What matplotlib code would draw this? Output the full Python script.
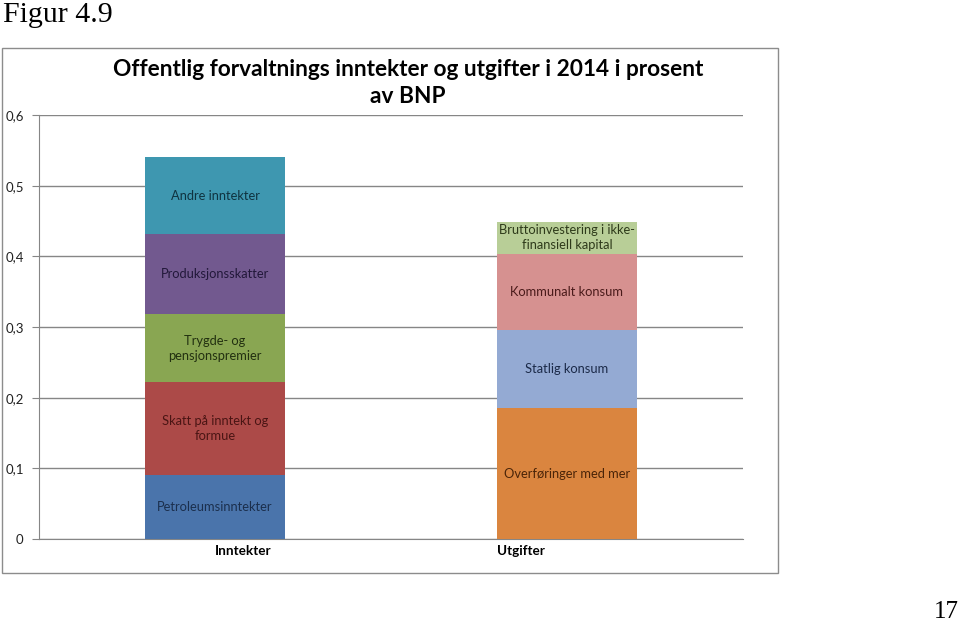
import matplotlib
matplotlib.use("Agg")
import matplotlib.pyplot as plt
from matplotlib.patches import Rectangle
import numpy as np

plt.rcParams['font.family'] = ['Lato', 'DejaVu Sans']

categories = ["Inntekter", "Utgifter"]
inntekt_labels = ["Petroleumsinntekter", "Skatt på inntekt og\nformue", "Trygde- og\npensjonspremier",
                  "Produksjonsskatter", "Andre inntekter"]
inntekt_values = [0.091, 0.131, 0.096, 0.113, 0.109]
utgift_labels = ["Overføringer med mer", "Statlig konsum", "Kommunalt konsum",
                 "Bruttoinvestering i ikke-\nfinansiell kapital"]
utgift_values = [0.185, 0.111, 0.108, 0.045]
yticks = [0, 0.1, 0.2, 0.3, 0.4, 0.5, 0.6]
ytick_labels = ["0", "0,1", "0,2", "0,3", "0,4", "0,5", "0,6"]

inntekt_colors = ["#4A74AB", "#AC4A48", "#89A652", "#72598F", "#3E97B0"]
inntekt_text = ["#1B2F4D", "#4A1514", "#223010", "#22183A", "#0F3340"]
utgift_colors = ["#DA853F", "#94AAD3", "#D69190", "#B8CE97"]
utgift_text = ["#4A2408", "#1B2A48", "#4A1A1A", "#2E3A1A"]

W, H = 960, 624
fig = plt.figure(figsize=(W/100, H/100), dpi=100)

# outer chart frame
fig.patches.append(Rectangle((2/W, 1-573/H), 776/W, (573-48)/H, transform=fig.transFigure,
                             fill=False, edgecolor="#8C8C8C", linewidth=1.0, zorder=0))

ax = fig.add_axes([39/W, 1-539/H, (743-39)/W, (539-115)/H])
ax.set_xlim(-0.5, 1.5)
ax.set_ylim(0, 0.6)
ax.set_yticks(yticks)
ax.set_yticklabels(ytick_labels, fontsize=9.5, color="#222222")
ax.set_xticks([])
for s in ["top", "right"]:
    ax.spines[s].set_visible(False)
ax.spines["left"].set_color("#868686")
ax.spines["bottom"].set_color("#868686")
ax.tick_params(axis="y", length=5, color="#868686", pad=6)
ax.yaxis.grid(True, color="#868686", linewidth=1)
ax.set_axisbelow(True)

def stack(x, values, labels, colors, tcolors):
    bottom = 0
    for v, lab, c, tc in zip(values, labels, colors, tcolors):
        ax.bar(x, v, 0.4, bottom=bottom, color=c, edgecolor="none", zorder=3)
        ax.text(x, bottom + v/2, lab, ha="center", va="center", fontsize=9.3,
                color=tc, zorder=4, linespacing=1.3)
        bottom += v

stack(0, inntekt_values, inntekt_labels, inntekt_colors, inntekt_text)
stack(1, utgift_values, utgift_labels, utgift_colors, utgift_text)

fig.text(243/W, 1-551/H, categories[0], ha="center", va="center", fontsize=9.7, fontweight="bold")
fig.text(521/W, 1-551/H, categories[1], ha="center", va="center", fontsize=9.7, fontweight="bold")

fig.text(408/W, 1-83/H, "Offentlig forvaltnings inntekter og utgifter i 2014 i prosent\nav BNP",
         ha="center", va="center", fontsize=16.3, fontweight="bold", linespacing=1.35)

fig.text(3/W, 1-15/H, "Figur 4.9", ha="left", va="center", fontsize=21.5,
         family=["Liberation Serif", "DejaVu Serif"])
fig.text(959/W, 1-612/H, "17", ha="right", va="center", fontsize=18,
         family=["Liberation Serif", "DejaVu Serif"])

fig.savefig("out.png", dpi=100)
